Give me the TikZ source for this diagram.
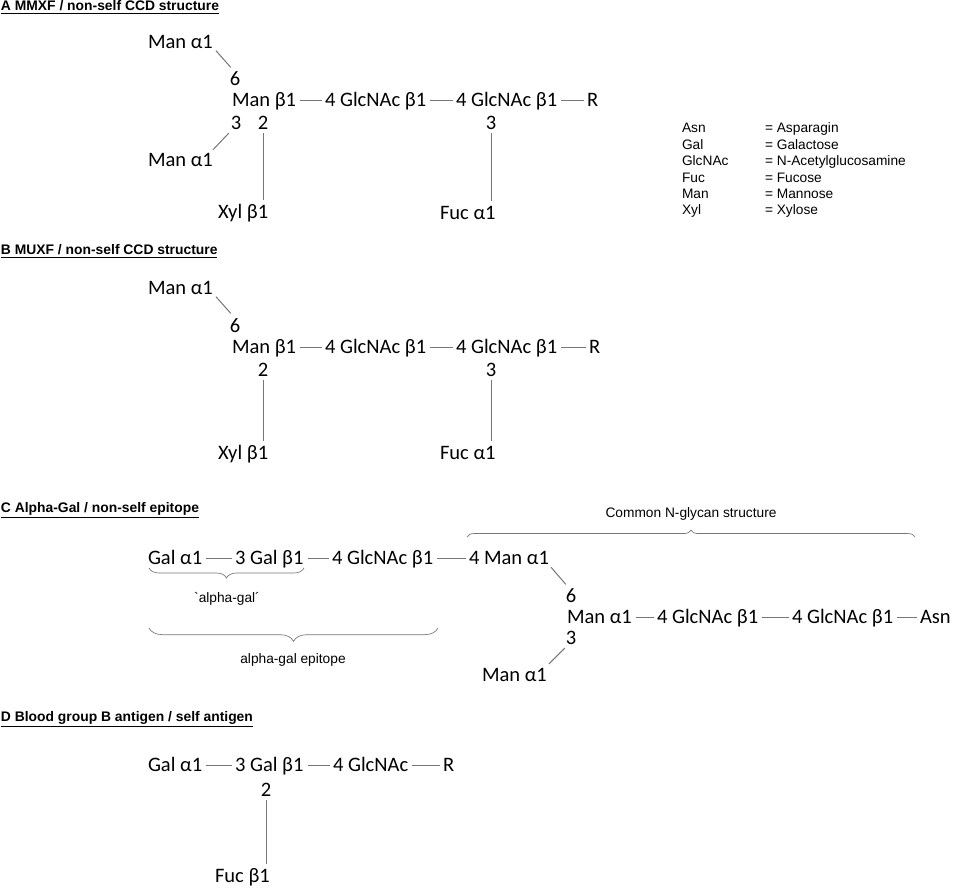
\documentclass[tikz,border=0pt]{standalone}
\usepackage{fontspec}
\setmainfont{Carlito}
\newfontfamily\arial{Liberation Sans}
\newfontfamily\arialraw[Ligatures=TeXOff]{Liberation Sans}
\usetikzlibrary{decorations.pathreplacing}
\definecolor{bondgray}{RGB}{118,118,118}

\begin{document}
\begin{tikzpicture}[x=0.75pt, y=-0.75pt]
    \tikzstyle{every node} = [inner sep=0pt, outer sep=0pt]
    \tikzstyle{sugar} = [anchor=west, font=\fontsize{15.4}{18}\selectfont, text height=9.9pt, text depth=0pt]
    \tikzstyle{linknum} = [font=\fontsize{15.4}{18}\selectfont, text height=9.9pt, text depth=0pt]
    \tikzstyle{panel} = [anchor=west, font=\arial\bfseries\fontsize{10.4}{12}\selectfont, text height=7.4pt, text depth=0pt]
    \tikzstyle{key} = [anchor=west, font=\arial\fontsize{10.3}{12}\selectfont, text height=7.4pt, text depth=0pt]
    \tikzstyle{note} = [font=\arial\fontsize{10.3}{12}\selectfont, text height=7.4pt, text depth=0pt]
    \tikzstyle{bond} = [draw=bondgray, line width=0.75pt]
    \tikzstyle{hbond} = [bond, shorten <=3pt, shorten >=2.5pt]
    \tikzstyle{vbond} = [bond, shorten <=2.6pt, shorten >=4.2pt]
    \tikzstyle{bracket} = [draw=bondgray, line width=0.5pt, decorate]
    \useasboundingbox (0, 0) rectangle (955, 889);

    % A
    \node (ta) [panel] at (1, 6) {\underline{A MMXF / non-self CCD structure}};
    \node (a6m) [sugar] at (148, 42) {Man α1};
    \node (a6) [linknum] at (235, 79) {6};
    \node (am) [sugar] at (232, 100) {Man β1};
    \node (a3) [linknum] at (236, 123) {3};
    \node (a2) [linknum] at (263, 123) {2};
    \node (a3m) [sugar] at (148, 160) {Man α1};
    \node (ax) [sugar] at (218, 212) {Xyl β1};
    \node (ag1) [sugar] at (325, 100) {4 GlcNAc β1};
    \node (ag2) [sugar] at (456, 100) {4 GlcNAc β1};
    \node (ar) [sugar] at (587, 100) {R};
    \node (af3) [linknum] at (491, 123) {3};
    \node (af) [sugar] at (440, 213) {Fuc α1};
    \draw [bond] ([shift={(3,2)}]a6m.south east) -- ([shift={(1,-5)}]a6.north west);
    \draw [bond] ([shift={(-2,3.5)}]a3.south west) -- ([shift={(0,-3.5)}]a3m.north east);
    \draw [hbond] (am) -- (ag1);
    \draw [hbond] (ag1) -- (ag2);
    \draw [hbond] (ag2) -- (ar);
    \draw [vbond] (a2.south) -- (a2.south |- ax.north);
    \draw [vbond] (af3.south) -- (af3.south |- af.north);

    % legend
    \node (k1) [key] at (682, 128) {Asn};
    \node (k2) [key] at (682, 144.4) {Gal};
    \node (k3) [key] at (682, 160.8) {GlcNAc};
    \node (k4) [key] at (682, 177.2) {Fuc};
    \node (k5) [key] at (682, 193.6) {Man};
    \node (k6) [key] at (682, 210) {Xyl};
    \node (v1) [key] at (765, 128) {= Asparagin};
    \node (v2) [key] at (765, 144.4) {= Galactose};
    \node (v3) [key] at (765, 160.8) {= N-Acetylglucosamine};
    \node (v4) [key] at (765, 177.2) {= Fucose};
    \node (v5) [key] at (765, 193.6) {= Mannose};
    \node (v6) [key] at (765, 210) {= Xylose};

    % B
    \node (tb) [panel] at (1, 250) {\underline{B MUXF / non-self CCD structure}};
    \node (b6m) [sugar] at (148, 288) {Man α1};
    \node (b6) [linknum] at (235, 326) {6};
    \node (bm) [sugar] at (232, 347) {Man β1};
    \node (b2) [linknum] at (263, 370) {2};
    \node (bx) [sugar] at (218, 453) {Xyl β1};
    \node (bg1) [sugar] at (325, 347) {4 GlcNAc β1};
    \node (bg2) [sugar] at (456, 347) {4 GlcNAc β1};
    \node (br) [sugar] at (589, 347) {R};
    \node (bf3) [linknum] at (491, 370) {3};
    \node (bf) [sugar] at (440, 453) {Fuc α1};
    \draw [bond] ([shift={(3,2)}]b6m.south east) -- ([shift={(1,-6)}]b6.north west);
    \draw [hbond] (bm) -- (bg1);
    \draw [hbond] (bg1) -- (bg2);
    \draw [hbond] (bg2) -- (br);
    \draw [vbond] (b2.south) -- (b2.south |- bx.north);
    \draw [vbond] (bf3.south) -- (bf3.south |- bf.north);

    % C
    \node (tc) [panel] at (1, 508) {\underline{C Alpha-Gal / non-self epitope}};
    \node (cga) [sugar] at (148, 558) {Gal α1};
    \node (cgb) [sugar] at (235, 558) {3 Gal β1};
    \node (cg) [sugar] at (332, 558) {4 GlcNAc β1};
    \node (c4m) [sugar] at (469, 558) {4 Man α1};
    \node (c6) [linknum] at (571, 596) {6};
    \node (cm) [sugar] at (567, 617) {Man α1};
    \node (cg1) [sugar] at (657, 617) {4 GlcNAc β1};
    \node (cg2) [sugar] at (792, 617) {4 GlcNAc β1};
    \node (casn) [sugar] at (920, 617) {Asn};
    \node (c3) [linknum] at (571, 638) {3};
    \node (c3m) [sugar] at (482, 675) {Man α1};
    \draw [hbond] (cga) -- (cgb);
    \draw [hbond] (cgb) -- (cg);
    \draw [hbond] (cg) -- (c4m);
    \draw [bond] ([shift={(2,2.5)}]c4m.south east) -- ([shift={(0,-5)}]c6.north west);
    \draw [hbond] (cm) -- (cg1);
    \draw [hbond] (cg1) -- (cg2);
    \draw [hbond] (cg2) -- (casn);
    \draw [bond] ([shift={(-1,3.5)}]c3.south west) -- ([shift={(2,-4.4)}]c3m.north east);
    \draw [bracket, decoration={brace, amplitude=5.2pt, aspect=0.5}] (467, 537) -- (915, 537);
    \draw [bracket, decoration={brace, amplitude=7.5pt, mirror}] (149, 568) -- (304, 568);
    \draw [bracket, decoration={brace, amplitude=10pt, mirror}] (149, 628) -- (438, 628);
    \node (cn) [note] at (691, 513) {Common N-glycan structure};
    \node (cag) [note] at (227, 598) {{\arialraw `}alpha-gal´};
    \node (cep) [note] at (293, 659) {alpha-gal epitope};

    % D
    \node (td) [panel] at (1, 717) {\underline{D Blood group B antigen / self antigen}};
    \node (dga) [sugar] at (148, 765) {Gal α1};
    \node (dgb) [sugar] at (235, 765) {3 Gal β1};
    \node (dg) [sugar] at (333, 765) {4 GlcNAc};
    \node (dr) [sugar] at (443, 765) {R};
    \node (d2) [linknum] at (266, 790) {2};
    \node (df) [sugar] at (215, 876) {Fuc β1};
    \draw [hbond] (dga) -- (dgb);
    \draw [hbond] (dgb) -- (dg);
    \draw [hbond] (dg) -- (dr);
    \draw [vbond] (d2.south) -- (d2.south |- df.north);
  \end{tikzpicture}
\end{document}
